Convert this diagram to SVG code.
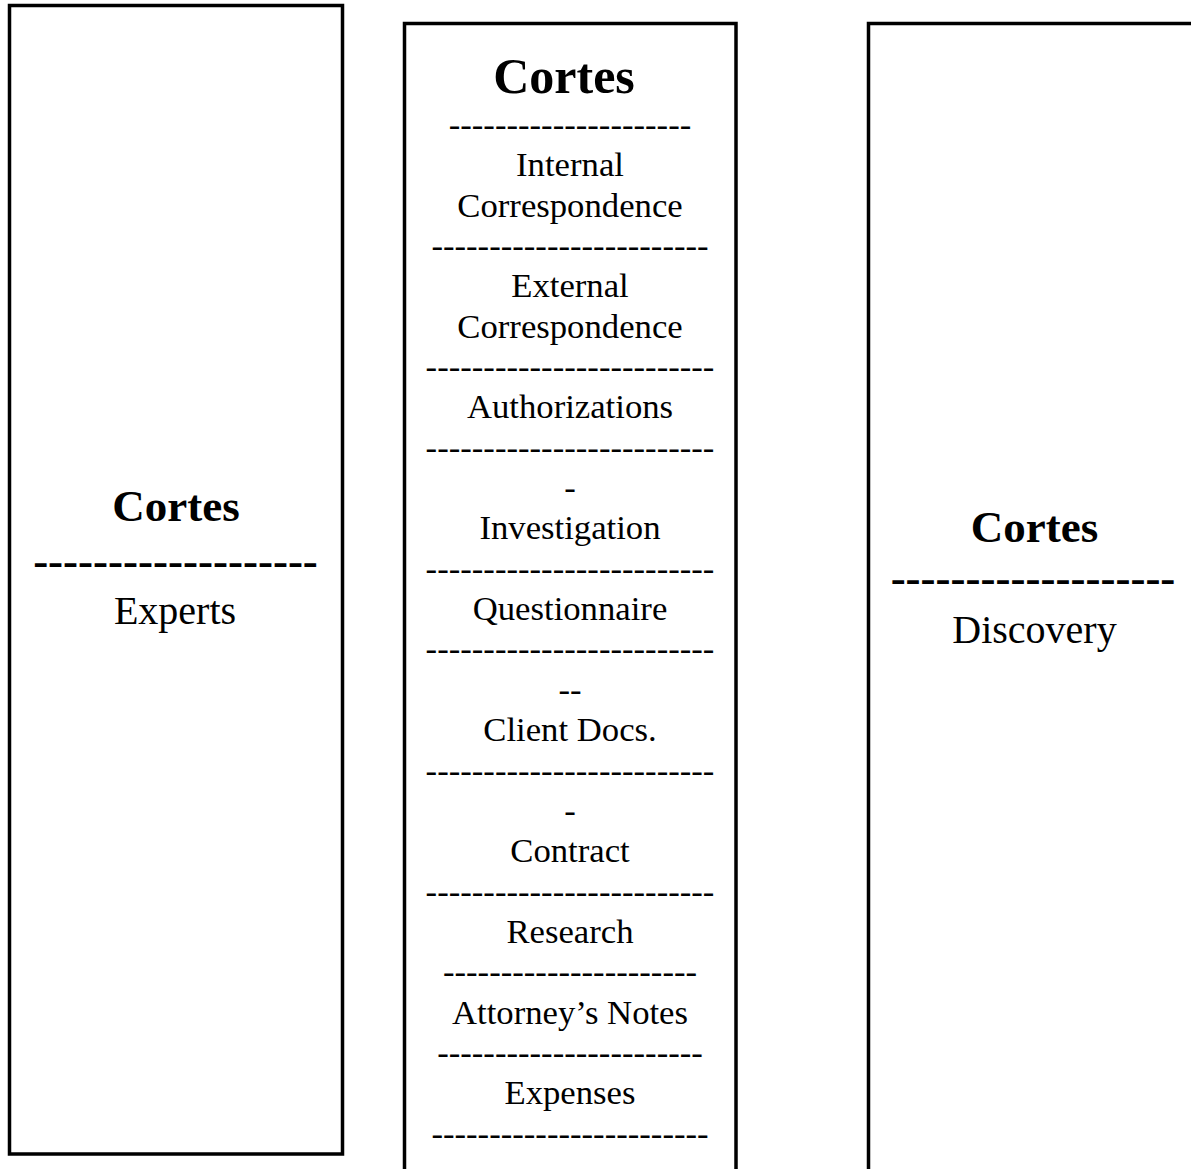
<svg xmlns="http://www.w3.org/2000/svg" width="1191" height="1169" viewBox="0 0 1191 1169">
<style>
.box{fill:#fff;stroke:#000;stroke-width:3.5}
text{font-family:"Liberation Serif","Times New Roman",serif;fill:#000;text-anchor:middle}
.tm{font-size:50px;font-weight:bold}
.ts{font-size:45px;font-weight:bold}
.bm{font-size:34.7px}
.bs{font-size:40px}
.ds{font-size:45px;font-weight:bold}
</style>
<rect width="1191" height="1169" fill="#fff"/>
<g id="connectors"></g>
<g id="node-experts">
<rect class="box" x="9.5" y="5.5" width="333" height="1148.5"/>
<text class="ts" x="176" y="521">Cortes</text>
<text class="ds" x="175.5" y="576">-------------------</text>
<text class="bs" x="175" y="624">Experts</text>
</g>
<g id="node-main">
<rect class="box" x="404.5" y="23.5" width="331.5" height="1200"/>
<text class="tm" x="564" y="93">Cortes</text>
<g class="bm">
<text x="570" y="136">---------------------</text>
<text x="570" y="176">Internal</text>
<text x="570" y="216.5">Correspondence</text>
<text x="570" y="257">------------------------</text>
<text x="570" y="297">External</text>
<text x="570" y="337.5">Correspondence</text>
<text x="570" y="378">-------------------------</text>
<text x="570" y="418">Authorizations</text>
<text x="570" y="458.5">-------------------------</text>
<text x="570" y="499">-</text>
<text x="570" y="539">Investigation</text>
<text x="570" y="580">-------------------------</text>
<text x="570" y="620">Questionnaire</text>
<text x="570" y="660">-------------------------</text>
<text x="570" y="701">--</text>
<text x="570" y="741">Client Docs.</text>
<text x="570" y="781.5">-------------------------</text>
<text x="570" y="822">-</text>
<text x="570" y="862">Contract</text>
<text x="570" y="902.5">-------------------------</text>
<text x="570" y="943">Research</text>
<text x="570" y="983">----------------------</text>
<text x="570" y="1023.5">Attorney’s Notes</text>
<text x="570" y="1064">-----------------------</text>
<text x="570" y="1104">Expenses</text>
<text x="570" y="1144.5">------------------------</text>
</g>
</g>
<g id="node-discovery">
<rect class="box" x="868.5" y="23.5" width="400" height="1200"/>
<text class="ts" x="1034.5" y="542">Cortes</text>
<text class="ds" x="1033" y="593">-------------------</text>
<text class="bs" x="1034.5" y="643">Discovery</text>
</g>
</svg>
